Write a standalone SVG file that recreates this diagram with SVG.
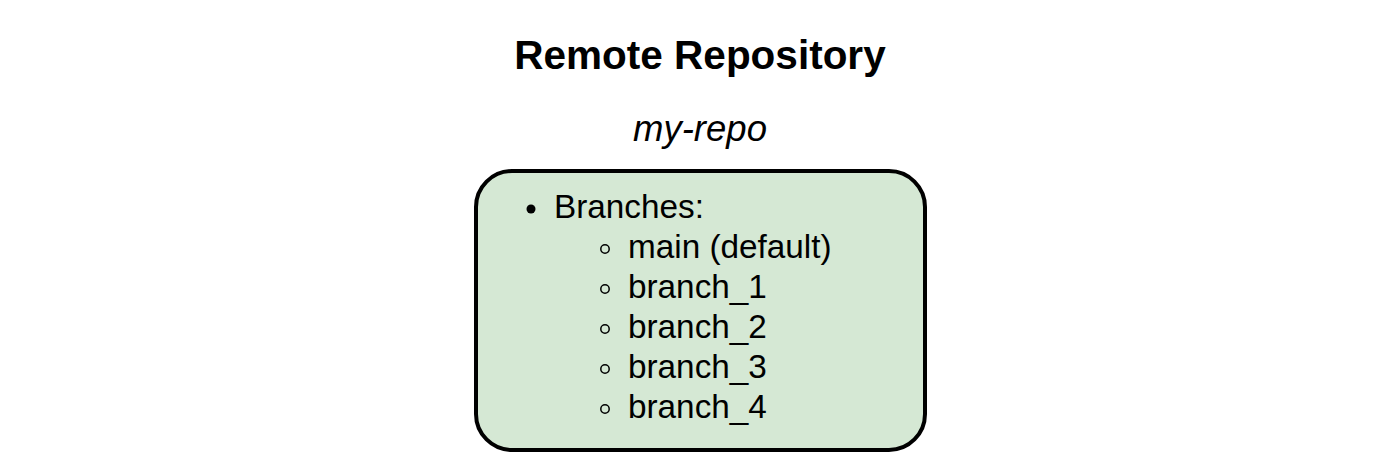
<svg xmlns="http://www.w3.org/2000/svg" width="1400" height="466" viewBox="0 0 1400 466">
<style>
.t{font-family:"Liberation Sans",Arial,sans-serif;fill:#000}
.title{font-size:40.5px;font-weight:bold}
.sub{font-size:36.5px;font-style:italic}
.item{font-size:33.3px}
.ob{fill:none;stroke:#000;stroke-width:1.5}
</style>
<rect width="1400" height="466" fill="#fff"/>
<g id="title"><text class="t title" x="700" y="69" text-anchor="middle">Remote Repository</text></g>
<g id="repo">
<text class="t sub" x="700" y="141" text-anchor="middle">my-repo</text>
<rect x="476" y="171" width="449" height="279" rx="36" ry="36" fill="#d5e8d4" stroke="#000" stroke-width="4"/>
<circle cx="531" cy="209" r="4.5" fill="#000"/>
<text class="t item" x="554" y="218">Branches:</text>
<circle class="ob" cx="605" cy="249" r="4.2"/>
<text class="t item" x="628" y="258">main (default)</text>
<circle class="ob" cx="605" cy="289" r="4.2"/>
<text class="t item" x="628" y="298">branch_1</text>
<circle class="ob" cx="605" cy="329" r="4.2"/>
<text class="t item" x="628" y="338">branch_2</text>
<circle class="ob" cx="605" cy="369" r="4.2"/>
<text class="t item" x="628" y="378">branch_3</text>
<circle class="ob" cx="605" cy="409" r="4.2"/>
<text class="t item" x="628" y="418">branch_4</text>
</g>
<g id="connectors"/>
</svg>
